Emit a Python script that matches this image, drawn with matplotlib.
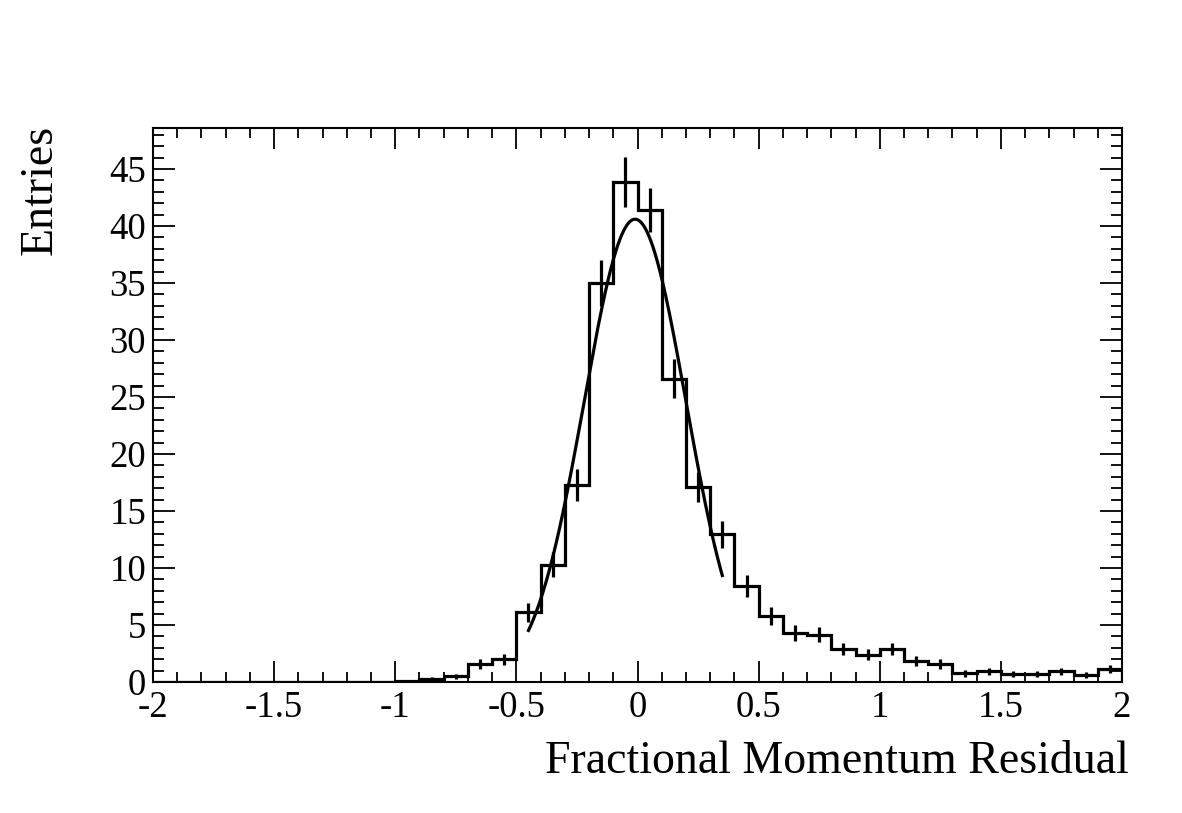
import numpy as np
import matplotlib
matplotlib.use("Agg")
import matplotlib.pyplot as plt
from matplotlib.ticker import MultipleLocator

# ===================== Datos =====================

bin_edges = np.round(np.arange(-2.0, 2.0001, 0.1), 2)

# contenido de cada bin, de -2 a 2 en pasos de 0.1
entries = [
    0, 0, 0, 0, 0, 0, 0, 0, 0, 0,            # -2.0 .. -1.1
    0.08, 0.29, 0.5, 1.6, 1.98,             # -1.0 .. -0.6
    6.1, 10.3, 17.3, 35.0, 43.85,           # -0.5 .. -0.1
    41.4, 26.6, 17.1, 12.95, 8.45,          #  0.0 ..  0.4
    5.8, 4.3, 4.15, 2.9, 2.4,               #  0.5 ..  0.9
    2.9, 1.85, 1.6, 0.75, 0.95,             #  1.0 ..  1.4
    0.7, 0.7, 0.95, 0.6, 1.15,              #  1.5 ..  1.9
]

# errores verticales (barras de error)
errors = [
    0, 0, 0, 0, 0, 0, 0, 0, 0, 0,
    0.09, 0.18, 0.23, 0.42, 0.47,
    0.82, 1.07, 1.38, 2.0, 2.17,
    1.9, 1.7, 1.33, 1.18, 0.96,
    0.8, 0.69, 0.68, 0.56, 0.51,
    0.56, 0.45, 0.42, 0.29, 0.32,
    0.28, 0.28, 0.32, 0.26, 0.36,
]

# ajuste gaussiano
fit_amp = 40.6
fit_mean = -0.01
fit_sigma = 0.21
fit_range = (-0.45, 0.35)

xtick_values = [-2, -1.5, -1, -0.5, 0, 0.5, 1, 1.5, 2]
xtick_labels = ["-2", "-1.5", "-1", "-0.5", "0", "0.5", "1", "1.5", "2"]
ytick_values = [0, 5, 10, 15, 20, 25, 30, 35, 40, 45]

# ===================== Figura =====================

plt.rcParams['font.family'] = ['Liberation Serif', 'DejaVu Serif']
plt.rcParams['axes.unicode_minus'] = False

fig = plt.figure(figsize=(11.82, 8.13), dpi=100)
ax = fig.add_axes([153 / 1182, 1 - 682 / 813, 969 / 1182, 554 / 813])

entries = np.array(entries)
errors = np.array(errors)
centers = 0.5 * (bin_edges[:-1] + bin_edges[1:])

ax.stairs(entries, bin_edges, color='black', linewidth=2.3)
mask = entries > 0
ax.errorbar(centers[mask], entries[mask], yerr=errors[mask], fmt='none',
            ecolor='black', elinewidth=2.3, capsize=0)

xf = np.linspace(fit_range[0], fit_range[1], 300)
yf = fit_amp * np.exp(-0.5 * ((xf - fit_mean) / fit_sigma) ** 2)
ax.plot(xf, yf, color='black', linewidth=2.3)

ax.set_xlim(-2, 2)
ax.set_ylim(0, 48.6)
ax.set_xticks(xtick_values)
ax.set_xticklabels(xtick_labels)
ax.set_yticks(ytick_values)
ax.xaxis.set_minor_locator(MultipleLocator(0.1))
ax.yaxis.set_minor_locator(MultipleLocator(1))

ax.tick_params(which='both', direction='in', top=True, right=True,
               labelsize=26.5, width=1.3)
ax.tick_params(axis='x', which='major', length=15, pad=6)
ax.tick_params(axis='x', which='minor', length=7.5)
ax.tick_params(axis='y', which='major', length=16, pad=5)
ax.tick_params(axis='y', which='minor', length=8)
for sp in ax.spines.values():
    sp.set_linewidth(1.5)

fig.text(40 / 1182, 1 - 125 / 813, "Entries", rotation=90,
         ha='center', va='top', fontsize=33)
fig.text(1129 / 1182, 1 - 762 / 813, "Fractional Momentum Residual",
         ha='right', va='center', fontsize=33)

fig.savefig("out.png", dpi=100)
